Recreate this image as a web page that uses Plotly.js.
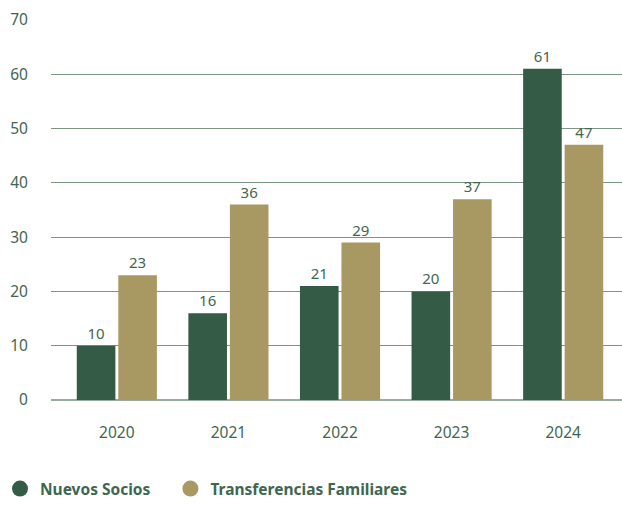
<!DOCTYPE html>
<html>
<head>
<meta charset="utf-8">
<script src="https://cdn.plot.ly/plotly-3.0.1.min.js"></script>
<style>html,body{margin:0;padding:0;background:#fff;}</style>
</head>
<body>
<div id="chart" style="width:622px;height:506px;"></div>
<script>
const years = ['2020', '2021', '2022', '2023', '2024'];
const nuevosSocios = [10, 16, 21, 20, 61];
const transferencias = [23, 36, 29, 37, 47];
const seriesNames = ['Nuevos Socios', 'Transferencias Familiares'];
const yTicks = [0, 10, 20, 30, 40, 50, 60, 70];

const green = '#345b45';
const gold = '#a89862';
const textColor = '#3f6650';
const fontFam = '"Noto Sans", "Open Sans", sans-serif';

const traces = [
  {type: 'bar', x: years, y: nuevosSocios, name: seriesNames[0], marker: {color: green},
   text: nuevosSocios.map(String), textposition: 'outside', cliponaxis: false,
   textfont: {color: textColor, size: 15, family: fontFam}, showlegend: false, hoverinfo: 'none'},
  {type: 'bar', x: years, y: transferencias, name: seriesNames[1], marker: {color: gold},
   text: transferencias.map(String), textposition: 'outside', cliponaxis: false,
   textfont: {color: textColor, size: 15, family: fontFam}, showlegend: false, hoverinfo: 'none'},
  {type: 'scatter', mode: 'markers', x: [null], y: [null], name: seriesNames[0], legend: 'legend',
   marker: {color: green, size: 16, symbol: 'circle'}},
  {type: 'scatter', mode: 'markers', x: [null], y: [null], name: seriesNames[1], legend: 'legend2',
   marker: {color: gold, size: 16, symbol: 'circle'}}
];

const legendBase = {
  orientation: 'h', xref: 'container', yref: 'container',
  xanchor: 'left', y: 0, yanchor: 'bottom',
  font: {size: 15.5, color: textColor, family: fontFam, weight: 'bold'},
  itemwidth: 30, bgcolor: 'rgba(0,0,0,0)', borderwidth: 0
};

const layout = {
  width: 622, height: 506,
  margin: {l: 51, r: 0, t: 20, b: 106, autoexpand: false},
  paper_bgcolor: '#fff', plot_bgcolor: '#fff',
  barmode: 'group', bargap: 0.256, bargroupgap: 0.07,
  font: {family: fontFam, color: textColor, size: 15},
  xaxis: {
    type: 'category', range: [-0.59, 4.527], showgrid: false, zeroline: false,
    showline: false, ticks: 'outside', ticklen: 18, tickcolor: 'rgba(0,0,0,0)',
    tickfont: {size: 15.5, color: textColor, family: fontFam}, fixedrange: true, automargin: false
  },
  yaxis: {
    range: [0, 70], tickvals: yTicks, ticktext: yTicks.map(String),
    showgrid: true, gridcolor: '#7c9484', gridwidth: 1,
    zeroline: true, zerolinecolor: '#9aaba0', zerolinewidth: 2,
    showline: false, ticks: 'outside', ticklen: 19, tickcolor: 'rgba(0,0,0,0)',
    tickfont: {size: 15.5, color: textColor, family: fontFam}, fixedrange: true, automargin: false
  },
  showlegend: true,
  legend: Object.assign({}, legendBase, {x: -0.003}),
  legend2: Object.assign({}, legendBase, {x: 0.274})
};

Plotly.newPlot('chart', traces, layout, {staticPlot: true, displayModeBar: false});
</script>
</body>
</html>
